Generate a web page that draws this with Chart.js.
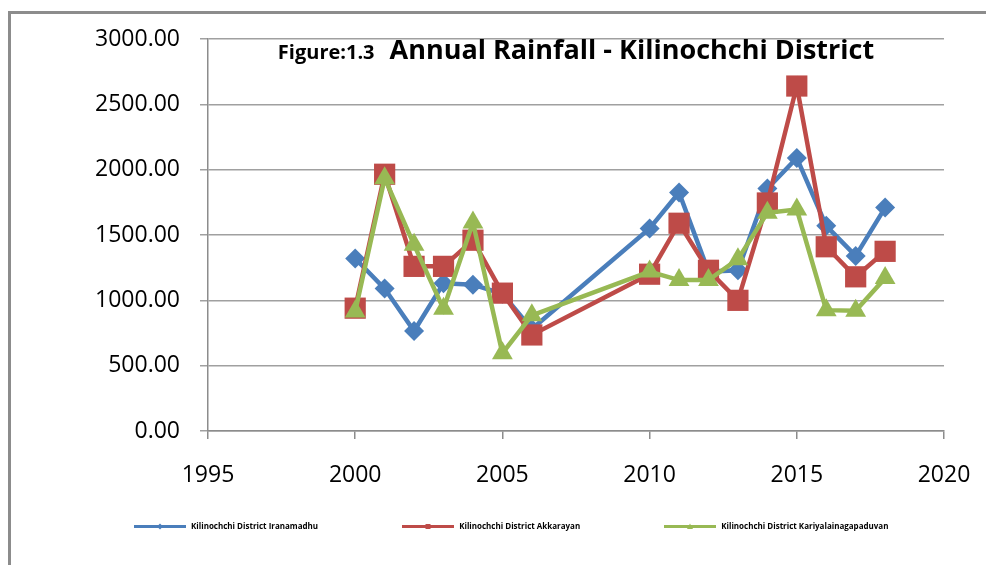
<!DOCTYPE html>
<html>
<head>
<meta charset="utf-8">
<title>Annual Rainfall - Kilinochchi District</title>
<script src="https://cdn.jsdelivr.net/npm/chart.js@4.4.1/dist/chart.umd.min.js"></script>
<style>
    html, body { margin: 0; padding: 0; background: #fff; overflow: hidden; }
    #frame {
        position: absolute; left: 8px; top: 11px;
        width: 1000px; height: 600px;
        border: 3px solid #8c8c8c;
    }
    #wrap { position: absolute; left: 0; top: 0; width: 986px; height: 565px; }
    #legend {
        position: absolute; left: 134px; top: 520px;
        display: flex; align-items: center;
        font-family: "Open Sans", sans-serif; font-size: 8px; font-weight: bold; color: #000;
    }
    #legend .item { display: flex; align-items: center; margin-right: 84px; }
    #legend canvas { margin-right: 5px; }
</style>
</head>
<body>
<div id="frame"></div>
<div id="wrap"><canvas id="myChart" width="986" height="565"></canvas></div>
<div id="legend"></div>
<script>
// Données
const seriesNames = [
    'Kilinochchi District Iranamadhu',
    'Kilinochchi District Akkarayan',
    'Kilinochchi District Kariyalainagapaduvan'
];
const years = [2000, 2001, 2002, 2003, 2004, 2005, 2006, 2010, 2011, 2012, 2013, 2014, 2015, 2016, 2017, 2018];
const iranamadhu = [1320, 1090, 765, 1130, 1120, 1050, 780, 1550, 1825, 1220, 1230, 1855, 2090, 1570, 1340, 1710];
const akkarayan = [940, 1965, 1260, 1260, 1460, 1055, 735, 1200, 1590, 1230, 1000, 1745, 2640, 1410, 1180, 1375];
const kariyalainagapaduvan = [915, 1935, 1425, 935, 1595, 595, 885, 1220, 1155, 1155, 1315, 1670, 1695, 925, 920, 1170];
const xTicks = [1995, 2000, 2005, 2010, 2015, 2020];
const yTicks = [0, 500, 1000, 1500, 2000, 2500, 3000];

const colors = ['#4a7ebb', '#be4b48', '#98b954'];
const markers = ['rectRot', 'rect', 'triangle'];

function toPoints(values) {
    return years.map((y, i) => ({ x: y, y: values[i] }));
}

// Petite image de légende : trait + marqueur
function legendImage(color, style) {
    const c = document.createElement('canvas');
    c.width = 52;
    c.height = 8;
    const g = c.getContext('2d');
    g.fillStyle = color;
    g.fillRect(0, 3, 52, 3);
    g.beginPath();
    if (style === 'rectRot') {
        g.moveTo(26, 1.5); g.lineTo(29, 4.5); g.lineTo(26, 7.5); g.lineTo(23, 4.5);
    } else if (style === 'rect') {
        g.rect(23.5, 2, 5, 5);
    } else {
        g.moveTo(26, 1.5); g.lineTo(29, 7); g.lineTo(23, 7);
    }
    g.closePath();
    g.fill();
    return c;
}

// Titre sur deux tailles de police
const titlePlugin = {
    id: 'mixedTitle',
    afterDraw(chart) {
        const ctx = chart.ctx;
        const area = chart.chartArea;
        const small = 'Figure:1.3';
        const big = 'Annual Rainfall - Kilinochchi District';
        ctx.save();
        ctx.fillStyle = '#000';
        ctx.textBaseline = 'alphabetic';
        ctx.font = 'bold 20px "Open Sans"';
        const w1 = ctx.measureText(small).width;
        ctx.font = 'bold 27px "Open Sans"';
        const w2 = ctx.measureText(big).width;
        const gap = 15;
        const x0 = (area.left + area.right) / 2 - (w1 + gap + w2) / 2;
        const yBase = area.top + 20;
        ctx.font = 'bold 20px "Open Sans"';
        ctx.fillText(small, x0, yBase);
        ctx.font = 'bold 27px "Open Sans"';
        ctx.fillText(big, x0 + w1 + gap, yBase);
        ctx.restore();
    }
};

// Légende HTML construite à partir des jeux de données
const htmlLegend = {
    id: 'htmlLegend',
    afterUpdate(chart) {
        const box = document.getElementById('legend');
        box.innerHTML = '';
        chart.data.datasets.forEach((ds, i) => {
            const item = document.createElement('div');
            item.className = 'item';
            item.appendChild(legendImage(colors[i], markers[i]));
            const txt = document.createElement('span');
            txt.textContent = ds.label;
            item.appendChild(txt);
            box.appendChild(item);
        });
    }
};

const datasets = [iranamadhu, akkarayan, kariyalainagapaduvan].map((values, i) => ({
    label: seriesNames[i],
    data: toPoints(values),
    showLine: true,
    borderColor: colors[i],
    backgroundColor: colors[i],
    borderWidth: 4.5,
    pointStyle: markers[i],
    pointRadius: [10, 15, 12][i],
    pointBorderWidth: 0,
    order: 3 - i
}));

const ctx = document.getElementById('myChart').getContext('2d');
const myChart = new Chart(ctx, {
    type: 'scatter',
    data: { datasets: datasets },
    options: {
        responsive: false,
        animation: false,
        layout: { padding: { left: 0, right: 42, top: 39, bottom: 0 } },
        plugins: {
            title: { display: false },
            tooltip: { enabled: false },
            legend: { display: false }
        },
        scales: {
            x: {
                type: 'linear',
                min: xTicks[0],
                max: xTicks[xTicks.length - 1],
                afterBuildTicks(scale) { scale.ticks = xTicks.map(v => ({ value: v })); },
                afterFit(scale) {
                    scale.height = 134;
                    scale.paddingLeft = 0;
                    scale.paddingRight = 0;
                },
                grid: { display: true, drawOnChartArea: false, drawTicks: true, tickLength: 8, color: '#8c8c8c', lineWidth: 1.5 },
                border: { display: true, color: '#8c8c8c', width: 1.5 },
                ticks: {
                    color: '#000',
                    padding: 23,
                    font: { family: '"Open Sans"', size: 23 },
                    callback: v => String(v)
                }
            },
            y: {
                min: yTicks[0],
                max: yTicks[yTicks.length - 1],
                afterBuildTicks(scale) { scale.ticks = yTicks.map(v => ({ value: v })); },
                afterFit(scale) {
                    scale.width = 208;
                    scale.paddingTop = 0;
                    scale.paddingBottom = 0;
                },
                grid: { color: '#a0a0a0', lineWidth: 1.5, tickLength: 8, drawTicks: true },
                border: { display: true, color: '#8c8c8c', width: 1.5 },
                ticks: {
                    color: '#000',
                    padding: 20,
                    font: { family: '"Open Sans"', size: 23 },
                    callback: v => Number(v).toFixed(2)
                }
            }
        }
    },
    plugins: [titlePlugin, htmlLegend]
});
</script>
</body>
</html>
